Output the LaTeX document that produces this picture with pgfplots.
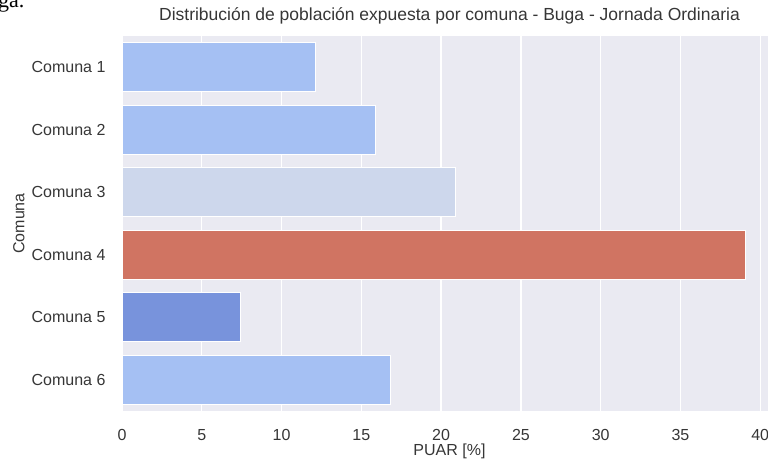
\documentclass[border=0pt]{standalone}
\usepackage{pgfplots}
\pgfplotsset{compat=1.18}
\usepackage{fontspec}
\setmainfont{Liberation Sans}
\newfontfamily\seriffont{Liberation Serif}
\definecolor{bgc}{HTML}{EAEAF2}
\definecolor{txt}{HTML}{363636}
\definecolor{cA}{HTML}{A5C0F3}
\definecolor{cB}{HTML}{CDD7EC}
\definecolor{cC}{HTML}{D07462}
\definecolor{cD}{HTML}{7893DC}
\begin{document}
\begin{tikzpicture}
\path[use as bounding box] (-122pt,-48pt) rectangle (646pt,411pt);
\fontsize{16}{19}\selectfont
\begin{axis}[
  at={(0,0)}, anchor=south west,
  scale only axis, width=655pt, height=375pt,
  xmin=0, xmax=41.05, ymin=-0.5, ymax=5.5,
  y dir=reverse,
  xbar, bar width=0.78, bar shift=0pt,
  axis background/.style={fill=bgc},
  axis line style={draw=none},
  major tick length=0pt,
  xtick={0,5,...,40},
  ytick={0,1,2,3,4,5},
  yticklabels={Comuna 1,Comuna 2,Comuna 3,Comuna 4,Comuna 5,Comuna 6},
  xmajorgrids, grid style={white, line width=1.3pt},
  tick label style={font=\fontsize{16}{19}\selectfont, text=txt},
  /pgf/number format/assume math mode=true,
  xticklabel style={yshift=-13pt},
  yticklabel style={xshift=-11pt},
  xlabel={PUAR [\%]},
  ylabel={Comuna},
  label style={font=\fontsize{16}{19}\selectfont, text=txt},
  xlabel style={at={(axis description cs:0.5,-0.1067)}, anchor=center},
  ylabel style={at={(axis description cs:-0.1573,0.5)}, anchor=center, rotate=0},
  title={Distribución de población expuesta por comuna - Buga - Jornada Ordinaria},
  title style={font=\fontsize{17.5}{20}\selectfont, text=txt, at={(axis description cs:0.5,1)}, anchor=base, yshift=10pt},
  every axis plot/.append style={draw=white, line width=0.8pt},
]
\addplot[fill=cA] coordinates {(12.15,0)};
\addplot[fill=cA] coordinates {(15.85,1)};
\addplot[fill=cB] coordinates {(20.9,2)};
\addplot[fill=cC] coordinates {(39.1,3)};
\addplot[fill=cD] coordinates {(7.43,4)};
\addplot[fill=cA] coordinates {(16.85,5)};
\end{axis}
\node[anchor=base west, inner sep=0pt, font=\seriffont\fontsize{22}{24}\selectfont] at (-124pt,403pt) {ga.};
\end{tikzpicture}
\end{document}
